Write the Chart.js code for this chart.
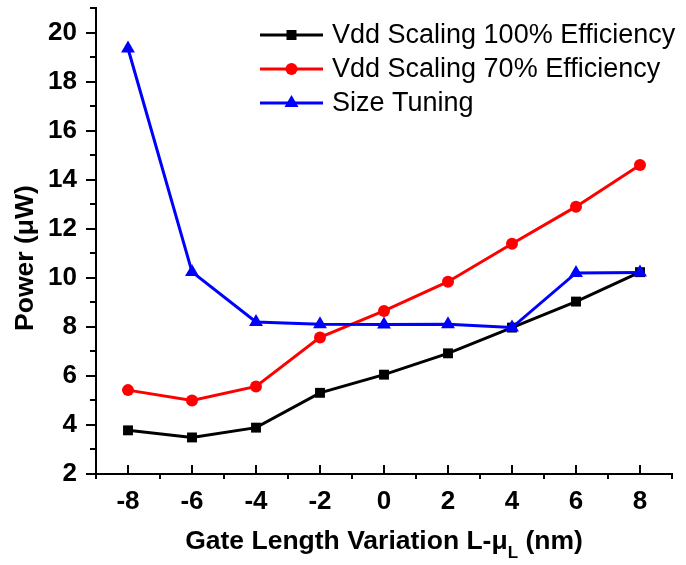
<!DOCTYPE html>
<html lang="en">
<head>
    <meta charset="UTF-8">
    <title>Power vs Gate Length Variation</title>
    <script src="https://cdn.jsdelivr.net/npm/chart.js"></script>
    <style>
        html, body { margin: 0; padding: 0; background: #fff; }
        #wrap { width: 686px; height: 565px; }
    </style>
</head>
<body>
    <div id="wrap">
        <canvas id="power_canvas" width="686" height="565"></canvas>
    </div>
    <script>
        const FONT = '"Liberation Sans", Arial, Helvetica, sans-serif';

        // gate length variation (nm)
        const gateLength = [-8, -6, -4, -2, 0, 2, 4, 6, 8];
        // power (uW)
        const vdd100 = [3.78, 3.49, 3.89, 5.31, 6.05, 6.92, 7.97, 9.03, 10.23];
        const vdd70 = [5.42, 5.0, 5.57, 7.57, 8.65, 9.84, 11.39, 12.9, 14.6];
        const sizeTuning = [19.35, 10.24, 8.2, 8.11, 8.1, 8.11, 7.97, 10.2, 10.22];

        const seriesNames = ['Vdd Scaling 100% Efficiency', 'Vdd Scaling 70% Efficiency', 'Size Tuning'];
        const xTickValues = [-8, -6, -4, -2, 0, 2, 4, 6, 8];
        const yTickValues = [2, 4, 6, 8, 10, 12, 14, 16, 18, 20];

        const toPoints = (ys) => gateLength.map((x, i) => ({ x: x, y: ys[i] }));

        function drawMarker(ctx, style, x, y, color) {
            ctx.save();
            ctx.fillStyle = color;
            ctx.beginPath();
            if (style === 'rect') {
                ctx.rect(x - 5, y - 5, 10, 10);
            } else if (style === 'circle') {
                ctx.arc(x, y, 6, 0, Math.PI * 2);
            } else {
                ctx.moveTo(x, y - 8);
                ctx.lineTo(x + 7, y + 4);
                ctx.lineTo(x - 7, y + 4);
                ctx.closePath();
            }
            ctx.fill();
            ctx.restore();
        }

        // tick marks: y ticks point outward, x major ticks point inward, minors outward
        const tickMarks = {
            id: 'tickMarks',
            afterDraw(chart) {
                const ctx = chart.ctx;
                const xs = chart.scales.x, ys = chart.scales.y;
                const a = chart.chartArea;
                ctx.save();
                ctx.strokeStyle = '#000';
                ctx.lineWidth = 2;
                ctx.beginPath();
                for (let v = ys.min; v <= ys.max; v++) {
                    const py = Math.round(ys.getPixelForValue(v));
                    const len = (v % 2 === 0) ? 10 : 6;
                    ctx.moveTo(a.left, py);
                    ctx.lineTo(a.left - len, py);
                }
                for (let v = xs.min; v <= xs.max; v++) {
                    const px = Math.round(xs.getPixelForValue(v));
                    ctx.moveTo(px, a.bottom);
                    ctx.lineTo(px, (Math.abs(v) % 2 === 0) ? a.bottom - 9 : a.bottom + 5);
                }
                ctx.stroke();
                ctx.restore();
            }
        };

        // axis titles (x title carries a subscript)
        const axisTitles = {
            id: 'axisTitles',
            afterDraw(chart) {
                const ctx = chart.ctx;
                ctx.save();
                ctx.fillStyle = '#000';
                ctx.textBaseline = 'alphabetic';

                const big = 'bold 26.5px ' + FONT;
                const small = 'bold 17px ' + FONT;
                ctx.font = big;
                const t1 = 'Gate Length Variation L-\u03bc';
                const t3 = ' (nm)';
                const w1 = ctx.measureText(t1).width;
                const w3 = ctx.measureText(t3).width;
                ctx.font = small;
                const w2 = ctx.measureText('L').width;
                let x = 384 - (w1 + w2 + w3) / 2;
                const base = 549;
                ctx.font = big;
                ctx.fillText(t1, x, base);
                x += w1;
                ctx.font = small;
                ctx.fillText('L', x, base + 9);
                x += w2;
                ctx.font = big;
                ctx.fillText(t3, x, base);

                ctx.translate(33, 258);
                ctx.rotate(-Math.PI / 2);
                ctx.textAlign = 'center';
                ctx.fillText('Power (\u03bcW)', 0, 0);
                ctx.restore();
            }
        };

        // legend inside the plot, top right
        const insideLegend = {
            id: 'insideLegend',
            afterDraw(chart) {
                const ctx = chart.ctx;
                ctx.save();
                chart.data.datasets.forEach((ds, i) => {
                    const y = 35 + i * 34;
                    ctx.strokeStyle = ds.borderColor;
                    ctx.lineWidth = 3;
                    ctx.beginPath();
                    ctx.moveTo(260, y);
                    ctx.lineTo(323, y);
                    ctx.stroke();
                    drawMarker(ctx, ds.pointStyle, 291.5, y, ds.borderColor);
                    ctx.fillStyle = '#000';
                    ctx.font = '27px ' + FONT;
                    ctx.textBaseline = 'middle';
                    ctx.fillText(ds.label, 332, y + 1);
                });
                ctx.restore();
            }
        };

        new Chart(document.getElementById('power_canvas'), {
            type: 'line',
            data: {
                datasets: [
                    {
                        label: seriesNames[0],
                        data: toPoints(vdd100),
                        borderColor: '#000000',
                        backgroundColor: '#000000',
                        pointStyle: 'rect',
                        pointRadius: 7,
                        borderWidth: 3,
                        pointBorderWidth: 0,
                        order: 2
                    },
                    {
                        label: seriesNames[1],
                        data: toPoints(vdd70),
                        borderColor: '#ff0000',
                        backgroundColor: '#ff0000',
                        pointStyle: 'circle',
                        pointRadius: 6,
                        borderWidth: 3,
                        pointBorderWidth: 0,
                        order: 1
                    },
                    {
                        label: seriesNames[2],
                        data: toPoints(sizeTuning),
                        borderColor: '#0000ff',
                        backgroundColor: '#0000ff',
                        pointStyle: 'triangle',
                        pointRadius: 8,
                        borderWidth: 3,
                        pointBorderWidth: 0,
                        order: 0
                    }
                ]
            },
            options: {
                responsive: false,
                animation: false,
                layout: { padding: { top: 5, right: 14, left: 0, bottom: 0 } },
                elements: { line: { tension: 0 } },
                plugins: {
                    legend: { display: false },
                    tooltip: { enabled: false }
                },
                scales: {
                    x: {
                        type: 'linear',
                        min: -9,
                        max: 9,
                        afterBuildTicks: (scale) => { scale.ticks = xTickValues.map(v => ({ value: v })); },
                        afterFit: (scale) => {
                            scale.height = 91;
                            scale.paddingLeft = 0;
                            scale.paddingRight = 0;
                        },
                        grid: { drawOnChartArea: false, drawTicks: true, tickLength: 9, color: 'rgba(0,0,0,0)' },
                        border: { display: true, color: '#000', width: 2 },
                        ticks: {
                            color: '#000',
                            padding: 3,
                            maxRotation: 0,
                            font: { family: FONT, size: 26, weight: 'bold' }
                        }
                    },
                    y: {
                        type: 'linear',
                        min: 2,
                        max: 21,
                        afterBuildTicks: (scale) => { scale.ticks = yTickValues.map(v => ({ value: v })); },
                        afterFit: (scale) => {
                            scale.width = 96;
                            scale.paddingTop = 0;
                            scale.paddingBottom = 0;
                        },
                        grid: { drawOnChartArea: false, drawTicks: true, tickLength: 10, color: 'rgba(0,0,0,0)' },
                        border: { display: true, color: '#000', width: 2 },
                        ticks: {
                            color: '#000',
                            padding: 9,
                            font: { family: FONT, size: 26, weight: 'bold' }
                        }
                    }
                }
            },
            plugins: [tickMarks, axisTitles, insideLegend]
        });
    </script>
</body>
</html>
